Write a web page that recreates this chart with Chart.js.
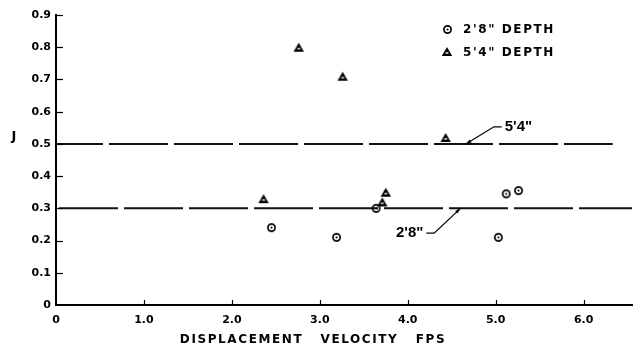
<!DOCTYPE html>
<html>
<head>
<meta charset="utf-8">
<script src="https://cdn.jsdelivr.net/npm/chart.js"></script>
<style>
  html, body { margin: 0; padding: 0; background: #fff; }
  #wrap { width: 639px; height: 352px; }
</style>
</head>
<body>
<div id="wrap"><canvas id="myChart" width="639" height="352"></canvas></div>
<script>
// tick values
var xTicks = [0, 1, 2, 3, 4, 5, 6];
var yTicks = [0, 0.1, 0.2, 0.3, 0.4, 0.5, 0.6, 0.7, 0.8, 0.9];

// 2'8" depth points
var depth28X = [2.45, 3.19, 3.64, 5.03, 5.12, 5.26];
var depth28Y = [0.24, 0.21, 0.30, 0.21, 0.345, 0.355];

// 5'4" depth points
var depth54X = [2.36, 2.76, 3.26, 3.71, 3.75, 4.43];
var depth54Y = [0.33, 0.80, 0.71, 0.32, 0.35, 0.52];

// average J lines
var lineNames = ["5'4\"", "2'8\""];
var lineJ = [0.5, 0.3];
var lineEnd = [6.33, 6.55];

var seriesNames = ["2'8\" DEPTH", "5'4\" DEPTH"];

function toPoints(xs, ys) {
    return xs.map(function (x, i) { return {x: x, y: ys[i]}; });
}

// marker images
function ringMarker() {
    var c = document.createElement("canvas");
    c.width = 11; c.height = 11;
    var g = c.getContext("2d");
    g.strokeStyle = "#000";
    g.lineWidth = 1.7;
    g.beginPath(); g.arc(5.5, 5.5, 3.6, 0, Math.PI * 2); g.stroke();
    g.fillStyle = "#000";
    g.beginPath(); g.arc(5.5, 5.5, 1.1, 0, Math.PI * 2); g.fill();
    return c;
}
function triMarker() {
    var c = document.createElement("canvas");
    c.width = 12; c.height = 11;
    var g = c.getContext("2d");
    g.fillStyle = "#000";
    g.beginPath(); g.moveTo(6, 1); g.lineTo(11.2, 10); g.lineTo(0.8, 10); g.closePath(); g.fill();
    g.fillStyle = "#fff";
    g.fillRect(4.6, 6.2, 2.8, 1.4);
    return c;
}
var ring = ringMarker();
var tri = triMarker();

var lineSets = lineJ.map(function (j, i) {
    return {
        label: lineNames[i],
        data: [{x: 0, y: j}, {x: lineEnd[i], y: j}],
        showLine: true,
        pointRadius: 0,
        borderColor: "#111",
        borderWidth: 2,
        borderDash: [59, 6],
        borderDashOffset: i == 0 ? 12 : -3,
        fill: false
    };
});

var tickFont = {family: "'DejaVu Sans', sans-serif", size: 11, weight: "bold"};

var extras = {
    id: "extras",
    afterDraw: function (chart) {
        var ctx = chart.ctx;
        var xs = chart.scales.x, ys = chart.scales.y;
        var area = chart.chartArea;
        ctx.save();
        ctx.strokeStyle = "#000";
        ctx.fillStyle = "#000";
        // inward ticks
        ctx.lineWidth = 1.2;
        xTicks.forEach(function (v) {
            if (v == 0) return;
            var px = Math.round(xs.getPixelForValue(v)) + 0.5;
            ctx.beginPath(); ctx.moveTo(px, area.bottom); ctx.lineTo(px, area.bottom - 5); ctx.stroke();
        });
        yTicks.forEach(function (v) {
            if (v == 0) return;
            var py = Math.round(ys.getPixelForValue(v)) + 0.5;
            ctx.beginPath(); ctx.moveTo(area.left, py); ctx.lineTo(area.left + 7, py); ctx.stroke();
        });

        // leader labels for the two lines
        var labelPos = [
            {tx: 5.08, ty: 0.553, hx: 4.98, ax: 4.66, side: "left"},
            {tx: 4.2, ty: 0.223, hx: 4.3, ax: 4.6, side: "right"}
        ];
        ctx.font = "bold 15px 'Liberation Sans', Arial, sans-serif";
        ctx.textBaseline = "middle";
        ctx.lineWidth = 1.2;
        labelPos.forEach(function (p, i) {
            var tx = xs.getPixelForValue(p.tx), ty = ys.getPixelForValue(p.ty);
            var hx = xs.getPixelForValue(p.hx);
            var ax = xs.getPixelForValue(p.ax), ay = ys.getPixelForValue(lineJ[i]);
            ctx.textAlign = p.side == "left" ? "left" : "right";
            ctx.fillText(lineNames[i], tx + (p.side == "left" ? 2 : -2), ty);
            ctx.beginPath();
            ctx.moveTo(p.side == "left" ? tx - 1 : tx + 1, ty);
            ctx.lineTo(hx, ty);
            ctx.lineTo(ax, ay);
            ctx.stroke();
            // arrow head
            var ang = Math.atan2(ay - ty, ax - hx);
            ctx.beginPath();
            ctx.moveTo(ax, ay);
            ctx.lineTo(ax - 6 * Math.cos(ang - 0.3), ay - 6 * Math.sin(ang - 0.3));
            ctx.lineTo(ax - 6 * Math.cos(ang + 0.3), ay - 6 * Math.sin(ang + 0.3));
            ctx.closePath(); ctx.fill();
        });

        // legend
        ctx.font = "bold 12px 'DejaVu Sans', sans-serif";
        ctx.letterSpacing = "1.6px";
        ctx.textAlign = "left";
        ctx.drawImage(ring, 442, 24);
        ctx.fillText(seriesNames[0], 463, 30);
        ctx.drawImage(tri, 441, 46);
        ctx.fillText(seriesNames[1], 463, 53);

        // axis titles
        ctx.font = "bold 12px 'DejaVu Sans', sans-serif";
        ctx.letterSpacing = "1.6px";
        ctx.textAlign = "center";
        ctx.fillText("DISPLACEMENT   VELOCITY   FPS", 313, 340);
        ctx.letterSpacing = "0px";
        ctx.font = "bold 13px 'DejaVu Sans', sans-serif";
        ctx.fillText("J", 14, 137);
        ctx.restore();
    }
};

new Chart("myChart", {
    type: "scatter",
    data: {
        datasets: [{
            label: seriesNames[0],
            data: toPoints(depth28X, depth28Y),
            pointStyle: ring,
            pointRadius: 5
        }, {
            label: seriesNames[1],
            data: toPoints(depth54X, depth54Y),
            pointStyle: tri,
            pointRadius: 5
        }].concat(lineSets)
    },
    plugins: [extras],
    options: {
        responsive: false,
        animation: false,
        layout: {padding: {top: 15, right: 7, left: 0, bottom: 0}},
        plugins: {
            legend: {display: false},
            tooltip: {enabled: false}
        },
        scales: {
            x: {
                type: "linear",
                min: 0,
                max: 6.55,
                afterBuildTicks: function (s) { s.ticks = xTicks.map(function (v) { return {value: v}; }); },
                afterFit: function (s) { s.height = 47; },
                grid: {display: false, drawTicks: false},
                border: {color: "#000", width: 2},
                ticks: {
                    padding: 9,
                    color: "#000",
                    font: tickFont,
                    callback: function (v) { return v == 0 ? "0" : v.toFixed(1); }
                }
            },
            y: {
                type: "linear",
                min: 0,
                max: 0.9,
                afterBuildTicks: function (s) { s.ticks = yTicks.map(function (v) { return {value: v}; }); },
                afterFit: function (s) { s.width = 56; },
                grid: {display: false, drawTicks: false},
                border: {color: "#000", width: 2},
                ticks: {
                    padding: 5,
                    color: "#000",
                    font: tickFont,
                    callback: function (v) { return v == 0 ? "0" : v.toFixed(1); }
                }
            }
        }
    }
});
</script>
</body>
</html>
